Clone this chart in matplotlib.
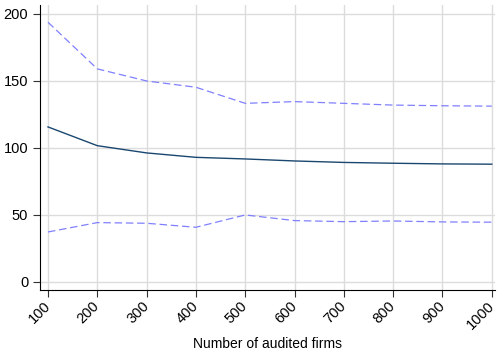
import matplotlib
matplotlib.use("Agg")
import matplotlib.pyplot as plt

plt.rcParams['font.family'] = ['Liberation Sans', 'DejaVu Sans']

firms = [100, 200, 300, 400, 500, 600, 700, 800, 900, 1000]
mean_est = [115.7, 101.7, 96.3, 93.0, 91.8, 90.3, 89.2, 88.6, 88.1, 87.9]
upper = [193.8, 159.0, 150.0, 145.3, 133.3, 134.6, 133.3, 132.0, 131.5, 131.2]
lower = [37.3, 44.3, 43.8, 40.8, 50.0, 45.8, 45.0, 45.5, 44.8, 44.6]

fig = plt.figure(figsize=(4.97, 3.56), dpi=100)
ax = fig.add_axes([0.0805, 0.1854, 0.915, 0.8006])

ax.plot(firms, upper, color='#8080ff', lw=0.9, dashes=(6, 3))
ax.plot(firms, lower, color='#8080ff', lw=0.9, dashes=(6, 3))
ax.plot(firms, mean_est, color='#1a476f', lw=1.0)

ax.set_xlim(83.8, 1006)
ax.set_ylim(-6, 206.7)
ax.set_xticks(firms)
ax.set_yticks([0, 50, 100, 150, 200])
ax.set_xticklabels([str(f) for f in firms], rotation=45, ha='right',
                   va='center', rotation_mode='anchor', fontsize=10.5)
for lab in ax.get_yticklabels():
    lab.set_fontsize(10.5)
ax.grid(True, color='#dcdcdc', lw=1.0)
ax.set_axisbelow(True)
ax.spines['top'].set_visible(False)
ax.spines['right'].set_visible(False)
ax.spines['left'].set_linewidth(0.8)
ax.spines['bottom'].set_linewidth(0.8)
ax.tick_params(length=5, width=0.8, color='#333333')
ax.tick_params(axis='x', pad=5)
ax.set_xlabel('Number of audited firms', fontsize=10)
ax.xaxis.set_label_coords(0.5, -0.165)

fig.savefig('out.png', dpi=100)
